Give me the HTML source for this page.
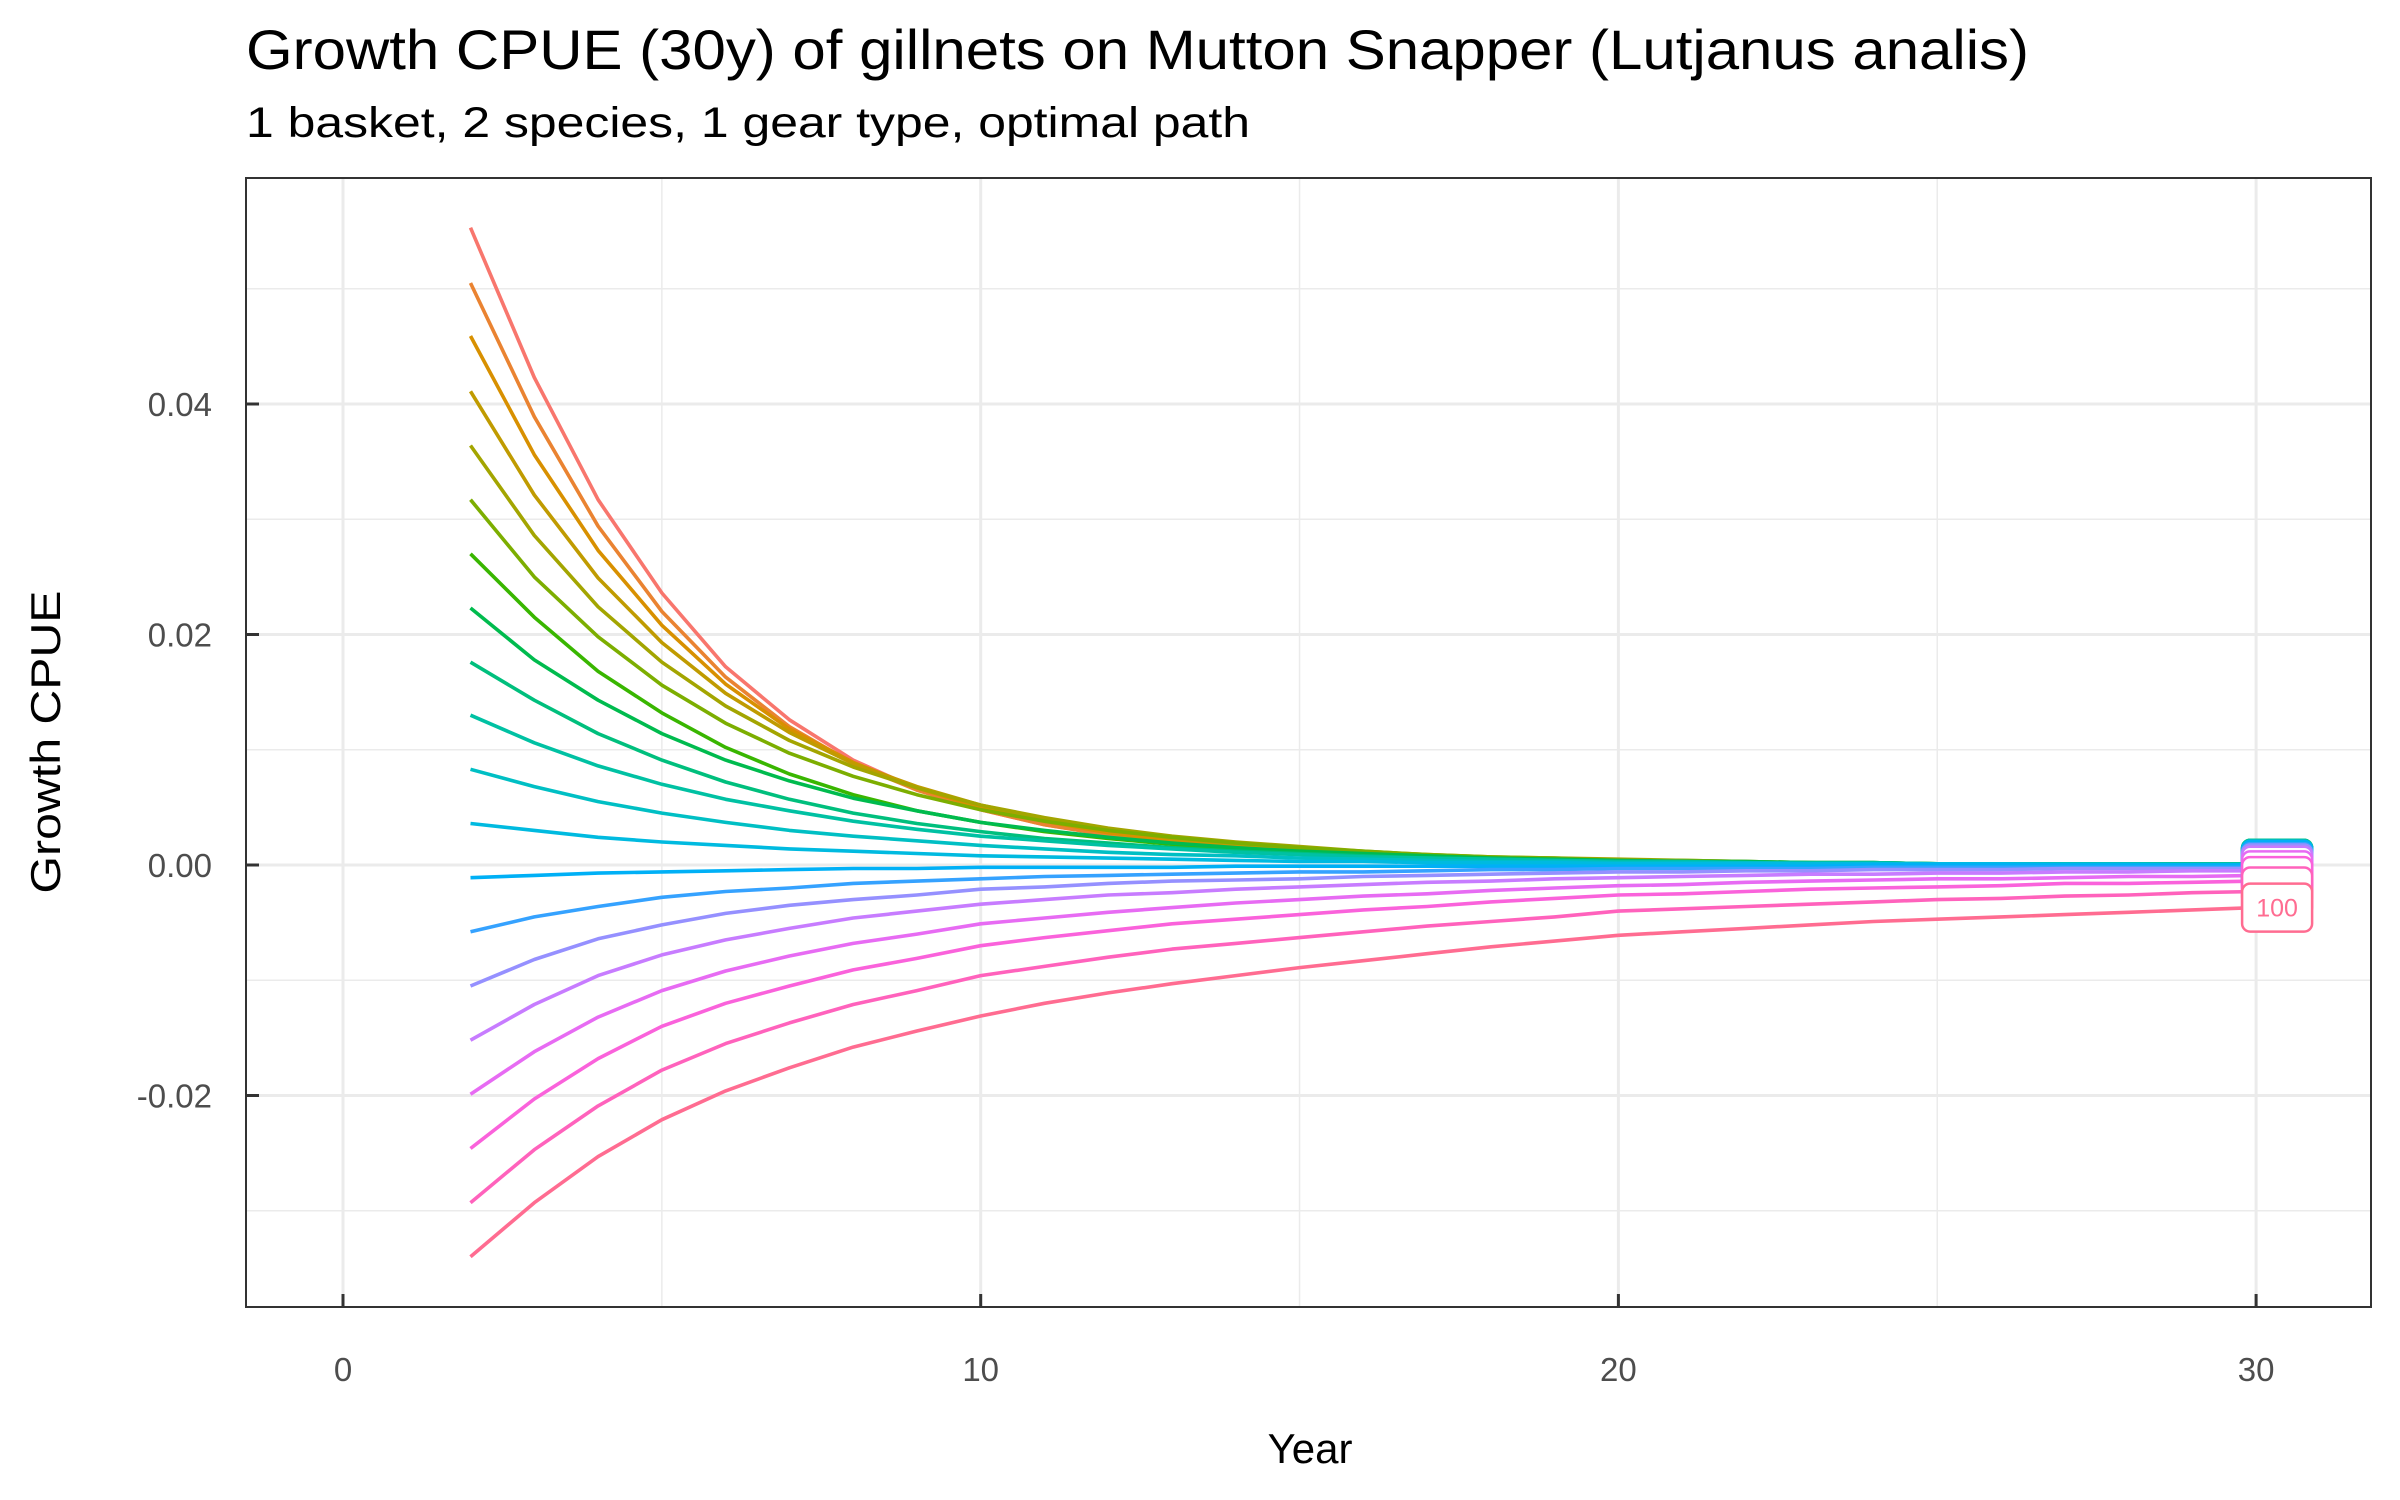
<!DOCTYPE html>
<html><head><meta charset="utf-8"><style>
html,body{margin:0;padding:0;background:#fff;}
svg{display:block;font-family:"Liberation Sans",sans-serif;}
</style></head><body>
<svg id="chart" width="2400" height="1500" viewBox="0 0 2400 1500" xmlns="http://www.w3.org/2000/svg">
<rect x="0" y="0" width="2400" height="1500" fill="#fff"/>
<text x="246" y="69" font-size="56" fill="#000" textLength="1783" lengthAdjust="spacingAndGlyphs">Growth CPUE (30y) of gillnets on Mutton Snapper (Lutjanus analis)</text>
<text x="246" y="137" font-size="43" fill="#000" textLength="1004" lengthAdjust="spacingAndGlyphs">1 basket, 2 species, 1 gear type, optimal path</text>
<g id="grid"></g>
<g id="series"></g>
<g id="labels"></g>
<rect x="246" y="178" width="2125" height="1129" fill="none" stroke="#333" stroke-width="2"/>
<g id="axes"></g>
<text x="1310" y="1463" font-size="42" text-anchor="middle" fill="#000">Year</text>
<text transform="translate(60,742) rotate(-90)" font-size="42" text-anchor="middle" fill="#000" textLength="303" lengthAdjust="spacingAndGlyphs">Growth CPUE</text>
</svg>
<script>
// Data (values in units of 1e-4), years 2..30
const years = [2,3,4,5,6,7,8,9,10,11,12,13,14,15,16,17,18,19,20,21,22,23,24,25,26,27,28,29,30];
const seriesLabels = ["005","010","015","020","025","030","035","040","045","050","055","060","065","070","075","080","085","090","095","100"];
const s01 = [553,423,317,236,172,126,91,66,48,35,26,19,14,10,7,5,4,3,2,2,1,1,1,1,1,0,0,0,0];
const s02 = [505,389,294,220,163,120,88,65,48,35,26,19,14,10,8,6,4,3,2,2,1,1,1,1,1,0,0,0,0];
const s03 = [459,356,273,208,157,118,89,67,50,38,28,21,16,12,9,7,5,4,3,2,2,1,1,1,1,1,0,0,0];
const s04 = [411,321,249,193,149,115,88,68,52,40,31,23,18,14,11,8,6,5,4,3,2,2,1,1,1,1,1,0,0];
const s05 = [364,286,224,176,138,108,85,67,52,41,32,25,20,16,12,9,7,6,5,4,3,2,2,1,1,1,1,1,0];
const s06 = [317,250,198,156,123,97,77,61,48,38,30,24,19,15,12,9,7,6,4,4,3,2,2,1,1,1,1,1,1];
const s07 = [270,215,168,132,102,79,61,47,37,29,23,18,14,11,9,7,5,4,3,3,2,2,1,1,1,1,1,1,0];
const s08 = [223,178,143,114,91,73,58,47,37,30,24,19,15,12,10,8,6,5,4,3,3,2,2,1,1,1,1,1,1];
const s09 = [176,143,114,91,72,57,45,36,29,23,19,15,12,10,8,6,5,4,3,3,2,2,2,1,1,1,1,1,1];
const s10 = [130,106,86,70,57,47,38,31,25,21,17,14,11,9,7,6,5,4,3,3,2,2,2,1,1,1,1,1,1];
const s11 = [83,68,55,45,37,30,25,21,17,14,11,9,8,6,5,4,3,3,2,2,2,1,1,1,1,1,1,0,0];
const s12 = [36,30,24,20,17,14,12,10,8,7,6,5,4,3,3,2,2,2,1,1,1,1,1,1,1,0,0,0,0];
const s13 = [-11,-9,-7,-6,-5,-4,-3,-3,-2,-2,-2,-2,-1,-1,-1,-1,-1,-1,-1,-1,-1,-1,0,0,0,0,0,0,0];
const s14 = [-58,-45,-36,-28,-23,-20,-16,-14,-12,-10,-9,-8,-7,-6,-6,-5,-4,-4,-3,-3,-3,-3,-2,-2,-2,-2,-2,-2,-2];
const s15 = [-105,-82,-64,-52,-42,-35,-30,-26,-21,-19,-16,-14,-13,-12,-10,-9,-8,-7,-6,-6,-5,-5,-4,-4,-4,-3,-3,-3,-3];
const s16 = [-152,-121,-96,-78,-65,-55,-46,-40,-34,-30,-26,-24,-21,-19,-17,-15,-14,-12,-11,-10,-9,-8,-8,-7,-7,-6,-6,-5,-5];
const s17 = [-199,-162,-132,-109,-92,-79,-68,-60,-51,-46,-41,-37,-33,-30,-27,-25,-22,-20,-18,-17,-15,-14,-13,-12,-12,-11,-10,-10,-9];
const s18 = [-246,-203,-168,-140,-120,-105,-91,-81,-70,-63,-57,-51,-47,-43,-39,-36,-32,-29,-26,-25,-23,-21,-20,-19,-18,-16,-16,-15,-14];
const s19 = [-293,-247,-209,-178,-155,-137,-121,-109,-96,-88,-80,-73,-68,-63,-58,-53,-49,-45,-40,-38,-36,-34,-32,-30,-29,-27,-26,-24,-23];
const s20 = [-340,-293,-253,-221,-196,-176,-158,-144,-131,-120,-111,-103,-96,-89,-83,-77,-71,-66,-61,-58,-55,-52,-49,-47,-45,-43,-41,-39,-37];
const xTicks = [0,10,20,30];
const xMinor = [5,15,25];
const yTicks = [400,200,0,-200];
const yTickLabels = ["0.04","0.02","0.00","-0.02"];
const yMinor = [500,300,100,-100,-300];

const allSeries = [s01,s02,s03,s04,s05,s06,s07,s08,s09,s10,s11,s12,s13,s14,s15,s16,s17,s18,s19,s20];
const colors = ["#F8766D","#EA8331","#D89000","#C09B00","#A3A500","#7CAE00","#39B600","#00BB4E","#00BF7D","#00C1A3","#00BFC4","#00BAE0","#00B0F6","#35A2FF","#9590FF","#C77CFF","#E76BF3","#FA62DB","#FF62BC","#FF6C91"];

const NS = "http://www.w3.org/2000/svg";
const PL = 246, PR = 2371, PT = 178, PB = 1307;
function xs(t){ return 343 + t * 63.77; }
function ys(v){ return 865 - v * 1.1525; }
function mk(tag, attrs, parent){
  const e = document.createElementNS(NS, tag);
  for (const k in attrs) e.setAttribute(k, attrs[k]);
  parent.appendChild(e);
  return e;
}
const grid = document.getElementById('grid');
xMinor.forEach(t => {
  const l = mk('line', {x1: xs(t), x2: xs(t), y1: PT, y2: PB, stroke: '#ebebeb', 'stroke-width': 1.5}, grid);
  
  
});
yMinor.forEach(v => {
  const l = mk('line', {x1: PL, x2: PR, y1: ys(v), y2: ys(v), stroke: '#ebebeb', 'stroke-width': 1.5}, grid);
  
  
});
xTicks.forEach(t => {
  const l = mk('line', {x1: xs(t), x2: xs(t), y1: PT, y2: PB, stroke: '#ebebeb', 'stroke-width': 3}, grid);
  
  
});
yTicks.forEach(v => {
  const l = mk('line', {x1: PL, x2: PR, y1: ys(v), y2: ys(v), stroke: '#ebebeb', 'stroke-width': 3}, grid);
  
  
});

const sg = document.getElementById('series');
allSeries.forEach((arr, i) => {
  const pts = arr.map((v, j) => xs(years[j]).toFixed(1) + ',' + ys(v).toFixed(1)).join(' ');
  const p = mk('polyline', {points: pts, fill: 'none', stroke: colors[i], 'stroke-width': 3.6, 'stroke-linejoin': 'round'}, sg);
  
  
});

const lg = document.getElementById('labels');
allSeries.forEach((arr, i) => {
  const v = arr[arr.length - 1];
  const cx = xs(years[years.length - 1]) + 21, cy = ys(v);
  const g = mk('g', {}, lg);
  
  
  mk('rect', {x: cx - 35, y: cy - 24, width: 70, height: 48, rx: 8, fill: '#fff', stroke: colors[i], 'stroke-width': 2.5}, g);
  const t = mk('text', {x: cx, y: cy + 9, 'font-size': 25, 'text-anchor': 'middle', fill: colors[i]}, g);
  t.textContent = seriesLabels[i];
});

const ax = document.getElementById('axes');
xTicks.forEach(t => {
  const tk = mk('line', {x1: xs(t), x2: xs(t), y1: PB, y2: PB - 13, stroke: '#333', 'stroke-width': 3}, ax);
  
  
  const lb = mk('text', {x: xs(t), y: 1381, 'font-size': 33, 'text-anchor': 'middle', fill: '#4d4d4d'}, ax);
  
  
  lb.textContent = String(t);
});
yTicks.forEach((v, i) => {
  const tk = mk('line', {x1: PL, x2: PL + 13, y1: ys(v), y2: ys(v), stroke: '#333', 'stroke-width': 3}, ax);
  
  
  const lb = mk('text', {x: 212, y: ys(v) + 12, 'font-size': 33, 'text-anchor': 'end', fill: '#4d4d4d'}, ax);
  
  
  lb.textContent = yTickLabels[i];
});
</script>
</body></html>
